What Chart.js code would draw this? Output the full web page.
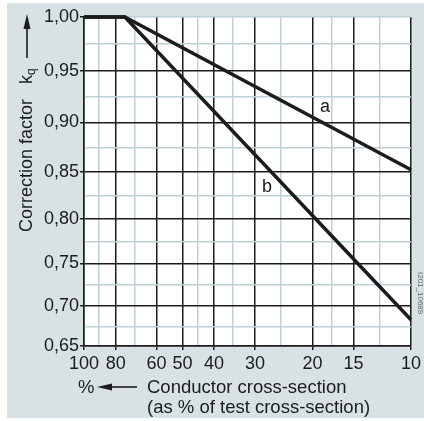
<!DOCTYPE html>
<html>
<head>
<meta charset="utf-8">
<script src="https://cdn.jsdelivr.net/npm/chart.js@4"></script>
<style>
html,body{margin:0;padding:0;background:#fff;}
#c{display:block;}
</style>
</head>
<body>
<canvas id="c" width="424" height="421"></canvas>
<script>
// ---- data ----
const sizes  = [100, 75, 10];            // conductor cross-section, % of test cross-section
const curveA = [1.00, 1.00, 0.852];      // correction factor kq, curve a
const curveB = [1.00, 1.00, 0.683];      // correction factor kq, curve b
const xMajorTicks = [100, 80, 60, 50, 40, 30, 20, 15, 10];
const xMinorTicks = [90, 70, 45, 35, 25, 17.5, 12.5];
const yTickValues = [0.65, 0.675, 0.70, 0.725, 0.75, 0.775, 0.80, 0.825, 0.85, 0.875, 0.90, 0.925, 0.95, 0.975, 1.00];
const seriesLabels = ['a', 'b'];

// y scale of the diagram is non-linear (compressed toward low values)
const P = 1.8;
const T = k => Math.pow(k, P);

const FONT = '"Liberation Sans", Arial, sans-serif';
const DARK = '#1c1c1c';
const LIGHT = '#bfd0d7';
const PANEL = '#d8e1e4';

const isYMajor = k => Math.round(k * 1000) % 50 === 0;
const xAllTicks = xMajorTicks.concat(xMinorTicks).sort((a, b) => b - a);

const panelPlugin = {
  id: 'panel',
  beforeDraw(chart) {
    const ctx = chart.ctx, a = chart.chartArea;
    ctx.save();
    ctx.fillStyle = '#ffffff';
    ctx.fillRect(0, 0, chart.width, chart.height);
    ctx.fillStyle = PANEL;
    ctx.fillRect(7, 3, chart.width - 7, 415);
    ctx.fillStyle = '#ffffff';
    ctx.fillRect(a.left, a.top, a.right - a.left, a.bottom - a.top);
    ctx.restore();
  },
  afterDraw(chart) {
    const ctx = chart.ctx;
    ctx.save();
    ctx.fillStyle = DARK;
    ctx.strokeStyle = DARK;
    // series labels
    ctx.font = '18px ' + FONT;
    ctx.textAlign = 'center';
    ctx.textBaseline = 'middle';
    ctx.fillText(seriesLabels[0], 325, 107);
    ctx.fillText(seriesLabels[1], 267, 187);

    // y axis title (rotated)
    ctx.save();
    ctx.translate(27, 232);
    ctx.rotate(-Math.PI / 2);
    ctx.textAlign = 'left';
    ctx.textBaseline = 'middle';
    ctx.font = '18px ' + FONT;
    ctx.fillText('Correction factor', 0, 0);
    ctx.fillText('k', 148, 0);
    ctx.font = '12px ' + FONT;
    ctx.fillText('q', 157, 5);
    // arrow up
    ctx.lineWidth = 1.6;
    ctx.beginPath();
    ctx.moveTo(174, 0);
    ctx.lineTo(207, 0);
    ctx.stroke();
    ctx.beginPath();
    ctx.moveTo(218, 0);
    ctx.lineTo(203, -3.5);
    ctx.lineTo(203, 3.5);
    ctx.closePath();
    ctx.fill();
    ctx.restore();

    // x axis title
    ctx.font = '18.5px ' + FONT;
    ctx.textAlign = 'left';
    ctx.textBaseline = 'alphabetic';
    ctx.fillText('%', 78, 393);
    ctx.lineWidth = 1.6;
    ctx.beginPath();
    ctx.moveTo(108, 387);
    ctx.lineTo(137, 387);
    ctx.stroke();
    ctx.beginPath();
    ctx.moveTo(97, 387);
    ctx.lineTo(112, 383.5);
    ctx.lineTo(112, 390.5);
    ctx.closePath();
    ctx.fill();
    ctx.fillText('Conductor cross-section', 147, 393);
    ctx.fillText('(as % of test cross-section)', 147, 413);

    // drawing code at right edge
    ctx.save();
    ctx.translate(420, 272);
    ctx.rotate(Math.PI / 2);
    ctx.font = '8px ' + FONT;
    ctx.fillStyle = '#666';
    ctx.textAlign = 'left';
    ctx.textBaseline = 'middle';
    ctx.fillText('I201_10689', 0, 0);
    ctx.restore();
    ctx.restore();
  }
};

const mk = arr => arr.map((k, i) => ({ x: sizes[i], y: T(k) }));

new Chart(document.getElementById('c'), {
  type: 'line',
  data: {
    datasets: [
      { label: seriesLabels[0], data: mk(curveA), borderColor: DARK, borderWidth: 3.5, pointRadius: 0, tension: 0, clip: false },
      { label: seriesLabels[1], data: mk(curveB), borderColor: DARK, borderWidth: 3.5, pointRadius: 0, tension: 0, clip: false }
    ]
  },
  options: {
    responsive: false,
    animation: false,
    devicePixelRatio: 1,
    layout: { padding: { left: 0, right: 10, top: 17, bottom: 0 } },
    plugins: { legend: { display: false }, tooltip: { enabled: false } },
    scales: {
      x: {
        type: 'logarithmic',
        reverse: true,
        min: 10,
        max: 100,
        afterBuildTicks: s => { s.ticks = xAllTicks.map(v => ({ value: v })); },
        afterFit: s => { s.height = 75; },
        border: { color: DARK, width: 1.5 },
        grid: {
          color: c => (c.tick && xMajorTicks.includes(c.tick.value)) ? DARK : LIGHT,
          tickColor: c => (c.tick && xMajorTicks.includes(c.tick.value)) ? DARK : 'rgba(0,0,0,0)',
          lineWidth: 1.5,
          tickLength: 4
        },
        ticks: {
          autoSkip: false,
          maxRotation: 0,
          padding: 3,
          color: DARK,
          font: { family: FONT, size: 18 },
          callback: v => xMajorTicks.includes(v) ? String(v) : ''
        }
      },
      y: {
        type: 'linear',
        min: T(0.65),
        max: T(1.00),
        afterBuildTicks: s => { s.ticks = yTickValues.map(k => ({ value: T(k) })); },
        afterFit: s => { s.width = 84; },
        border: { color: DARK, width: 1.5 },
        grid: {
          color: c => {
            const k = yTickValues[c.index];
            if (k === undefined) return LIGHT;
            if (k === 1.00) return LIGHT;
            return isYMajor(k) ? DARK : LIGHT;
          },
          tickColor: c => {
            const k = yTickValues[c.index];
            return (k !== undefined && isYMajor(k)) ? DARK : 'rgba(0,0,0,0)';
          },
          lineWidth: 1.5,
          tickLength: 4
        },
        ticks: {
          autoSkip: false,
          padding: 1,
          color: DARK,
          font: { family: FONT, size: 18 },
          callback: (v, i) => {
            const k = yTickValues[i];
            return isYMajor(k) ? k.toFixed(2).replace('.', ',') : '';
          }
        }
      }
    }
  },
  plugins: [panelPlugin]
});
</script>
</body>
</html>
